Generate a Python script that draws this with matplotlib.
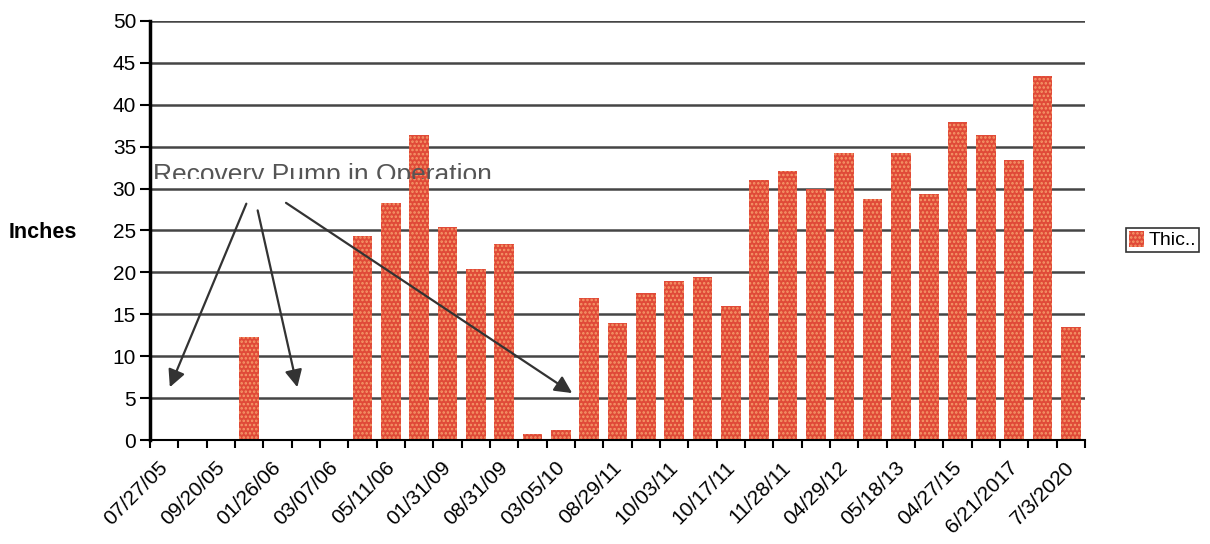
import matplotlib
matplotlib.use("Agg")
import matplotlib.pyplot as plt
from matplotlib.transforms import Bbox, TransformedBbox, ScaledTranslation
import numpy as np

plt.rcParams['font.family'] = ['Liberation Sans', 'DejaVu Sans']
plt.rcParams['hatch.linewidth'] = 1.2

# one value per sampling event (empty slots read as zero)
thickness = [0, 0, 0, 12.3, 0, 0, 0, 24.4, 28.3, 36.4, 25.4, 20.4, 23.4, 0.7, 1.2,
             17.0, 14.0, 17.5, 19.0, 19.5, 16.0, 31.0, 32.1, 30.0, 34.3, 28.8,
             34.3, 29.3, 37.9, 36.4, 33.4, 43.4, 13.5]
# only every other event gets a label
date_labels = ['07/27/05', '09/20/05', '01/26/06', '03/07/06', '05/11/06', '01/31/09',
               '08/31/09', '03/05/10', '08/29/11', '10/03/11', '10/17/11', '11/28/11',
               '04/29/12', '05/18/13', '04/27/15', '6/21/2017', '7/3/2020']
y_ticks = list(range(0, 51, 5))

x = np.arange(len(thickness))

fig = plt.figure(figsize=(12.1, 5.44), dpi=100)
ax = fig.add_axes([150/1210, 1 - 440/544, 935/1210, 419/544])

bars = ax.bar(x, thickness, width=0.7, color='#e04a38', edgecolor='#f59a6a',
              linewidth=0, hatch='....', zorder=2, label='Thic..')

ax.set_xlim(-0.5, len(thickness) - 0.5)
ax.set_ylim(0, 50)
ax.set_yticks(y_ticks)
ax.yaxis.grid(True, color='#454545', linewidth=1.8, zorder=0)
ax.set_axisbelow(True)

# tick marks sit between categories, labels on every other bar
ax.set_xticks(np.arange(-0.5, len(thickness), 1.0))
ax.set_xticklabels([])
ax.set_xticks(x[::2], minor=True)
ax.set_xticklabels(date_labels, minor=True, rotation=45, ha='right',
                   rotation_mode='anchor', fontsize=15)
ax.tick_params(axis='x', which='minor', length=0, pad=13)
ax.tick_params(axis='x', which='major', length=6, width=1.5, direction='out')
ax.tick_params(axis='y', length=7, width=1.5, labelsize=15, pad=3)
shift = ScaledTranslation(-6/100, 0, fig.dpi_scale_trans)
for lab in ax.get_xticklabels(minor=True):
    lab.set_transform(lab.get_transform() + shift)

for s in ['top', 'right']:
    ax.spines[s].set_visible(False)
ax.spines['left'].set_linewidth(2.5)
ax.spines['bottom'].set_linewidth(1.5)

fig.text(9/1210, 1 - 232/544, 'Inches', fontsize=15.5, fontweight='bold', va='center')

# annotation text, cut off at its lower edge like the original
txt = ax.text(-0.4, 30.8, 'Recovery Pump in Operation', fontsize=19, color='#555555',
              va='baseline', ha='left', zorder=3, clip_on=True)
txt.set_clip_box(TransformedBbox(Bbox([[-1, 31.1], [40, 60]]), ax.transData))

arrows = [((2.9, 28.2), (0.2, 6.3)),
          ((3.3, 27.4), (4.7, 6.3)),
          ((4.3, 28.3), (14.4, 5.6))]
for start, end in arrows:
    ax.annotate('', xy=end, xytext=start,
                arrowprops=dict(arrowstyle='-|>', color='#333333', lw=1.6,
                                mutation_scale=26, shrinkA=0, shrinkB=0),
                zorder=4)

leg = fig.legend(handles=[bars], loc='center left', bbox_to_anchor=(1126/1210, 1 - 240/544),
                 fontsize=14, frameon=True, fancybox=False, handlelength=0.8,
                 handleheight=0.9, handletextpad=0.2, borderpad=0.15, borderaxespad=0)
leg.get_frame().set_edgecolor('black')
leg.get_frame().set_linewidth(1.2)

fig.savefig('out.png', dpi=100)
